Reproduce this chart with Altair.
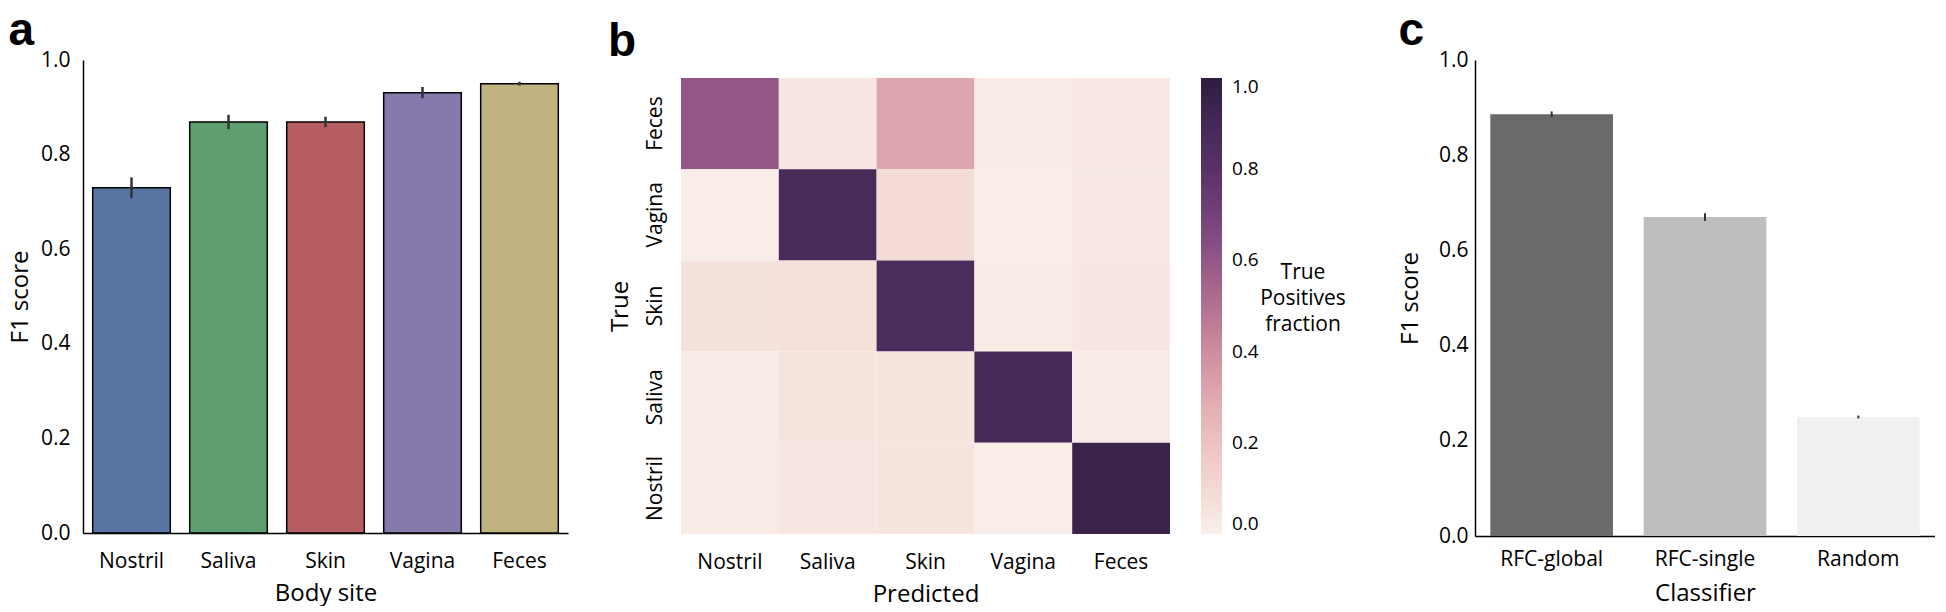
import altair as alt
import pandas as pd

# ---- panel a: F1 score per body site ----
sites = ["Nostril", "Saliva", "Skin", "Vagina", "Feces"]
f1_site = [0.730, 0.869, 0.869, 0.931, 0.950]
f1_site_err = [0.022, 0.015, 0.011, 0.012, 0.004]
site_colors = ["#5975a4", "#5f9e6e", "#b55d60", "#857aab", "#c1b37f"]

# ---- panel b: confusion matrix ----
true_labels = ["Feces", "Vagina", "Skin", "Saliva", "Nostril"]
pred_labels = ["Nostril", "Saliva", "Skin", "Vagina", "Feces"]
tp_fraction = [
    [0.60, 0.04, 0.31, 0.02, 0.03],
    [0.01, 0.88, 0.09, 0.01, 0.03],
    [0.06, 0.07, 0.86, 0.02, 0.04],
    [0.02, 0.05, 0.05, 0.89, 0.02],
    [0.02, 0.04, 0.05, 0.01, 0.94],
]
cmap_stops = ["#f9efeb", "#f3d9d3", "#ecc3c1", "#e0a9b0", "#cd8e9f", "#b27191",
              "#925786", "#724279", "#583267", "#452856", "#2d1d3d"]
cbar_ticks = [0.0, 0.2, 0.4, 0.6, 0.8, 1.0]
cbar_title = "True\nPositives\nfraction"

# ---- panel c: F1 score per classifier ----
classifiers = ["RFC-global", "RFC-single", "Random"]
f1_clf = [0.886, 0.670, 0.250]
f1_clf_err = [0.006, 0.008, 0.003]
clf_colors = ["#6a6a6a", "#bebebe", "#f0f0f0"]

y_ticks = [0.0, 0.2, 0.4, 0.6, 0.8, 1.0]

FONT = "Open Sans"

df_a = pd.DataFrame({"site": sites, "f1": f1_site, "err": f1_site_err})
df_a["lo"] = df_a["f1"] - df_a["err"]
df_a["hi"] = df_a["f1"] + df_a["err"]

rows = []
for i, t in enumerate(true_labels):
    for j, p in enumerate(pred_labels):
        rows.append({"true": t, "pred": p, "frac": tp_fraction[i][j]})
df_b = pd.DataFrame(rows)

df_c = pd.DataFrame({"clf": classifiers, "f1": f1_clf, "err": f1_clf_err})
df_c["lo"] = df_c["f1"] - df_c["err"]
df_c["hi"] = df_c["f1"] + df_c["err"]


def y_axis(pad_title, pad_label):
    return alt.Axis(values=y_ticks, format=".1f", grid=False, ticks=False,
                    domain=True, domainColor="black", domainWidth=1.5,
                    labelPadding=pad_label, title="F1 score", titlePadding=pad_title)


def x_axis(title, lab_pad, title_pad):
    return alt.Axis(labelAngle=0, ticks=False, domain=True, domainColor="black",
                    domainWidth=1.5, labelPadding=lab_pad, title=title,
                    titlePadding=title_pad)


TITLE_OFFSET = -6

# panel a
xa = alt.X("site:N", sort=sites, scale=alt.Scale(paddingInner=0.2, paddingOuter=0.1),
           axis=x_axis("Body site", 17, 10))
bars_a = alt.Chart(df_a).mark_bar(stroke="black", strokeWidth=1.5).encode(
    x=xa,
    y=alt.Y("f1:Q", scale=alt.Scale(domain=[0, 1], nice=False), axis=y_axis(8, 13)),
    color=alt.Color("site:N", scale=alt.Scale(domain=sites, range=site_colors), legend=None),
)
err_a = alt.Chart(df_a).mark_rule(color="#333333", strokeWidth=2.5).encode(
    x=alt.X("site:N", sort=sites), y="lo:Q", y2="hi:Q"
)
panel_a = alt.layer(bars_a, err_a).properties(
    width=485, height=473, title=alt.TitleParams("a", offset=TITLE_OFFSET)
)

# panel b
heat = alt.Chart(df_b).mark_rect().encode(
    x=alt.X("pred:N", sort=pred_labels, scale=alt.Scale(paddingInner=0, paddingOuter=0),
            axis=alt.Axis(labelAngle=0, ticks=False, domain=False, labelPadding=17,
                          title="Predicted", titlePadding=10)),
    y=alt.Y("true:N", sort=true_labels,
            scale=alt.Scale(paddingInner=0, paddingOuter=0, range=[18, 474]),
            axis=alt.Axis(labelAngle=270, ticks=False, domain=False, labelPadding=26,
                          labelBaseline="middle", labelAlign="center",
                          title="True", titlePadding=12)),
    color=alt.Color("frac:Q", scale=alt.Scale(domain=[0, 1], range=cmap_stops),
                    legend=alt.Legend(title=None, orient="none", legendX=520, legendY=18,
                                      values=cbar_ticks, format=".1f",
                                      gradientLength=456, gradientThickness=21,
                                      gradientStrokeWidth=0,
                                      labelOffset=10, labelFontSize=19, labelFont=FONT,
                                      labelColor="black")),
)
cbar_label = alt.Chart(pd.DataFrame({"t": [cbar_title]})).mark_text(
    font=FONT, fontSize=21, color="black", align="center", baseline="middle",
    lineBreak="\n", lineHeight=26
).encode(text="t:N", x=alt.value(622), y=alt.value(213))
panel_b = alt.layer(heat, cbar_label).properties(
    width=489, height=474, title=alt.TitleParams("b", offset=TITLE_OFFSET)
)

# panel c
bars_c = alt.Chart(df_c).mark_bar().encode(
    x=alt.X("clf:N", sort=classifiers, scale=alt.Scale(paddingInner=0.2, paddingOuter=0.1),
            axis=x_axis("Classifier", 12, 12)),
    y=alt.Y("f1:Q", scale=alt.Scale(domain=[0, 1], nice=False), axis=y_axis(16, 7)),
    color=alt.Color("clf:N", scale=alt.Scale(domain=classifiers, range=clf_colors), legend=None),
)
err_c = alt.Chart(df_c).mark_rule(color="#333333", strokeWidth=2).encode(
    x=alt.X("clf:N", sort=classifiers), y="lo:Q", y2="hi:Q"
)
panel_c = alt.layer(bars_c, err_c).properties(
    width=460, height=476, title=alt.TitleParams("c", offset=TITLE_OFFSET)
)

chart = alt.hconcat(
    alt.hconcat(panel_a, panel_b, spacing=40), panel_c, spacing=52
).properties(padding=0).configure_view(stroke=None).configure_axis(
    labelFont=FONT, labelFontSize=21, labelColor="black",
    titleFont=FONT, titleFontSize=24, titleFontWeight="normal", titleColor="black",
).configure_title(
    font="Liberation Sans", fontSize=46, fontWeight="bold", anchor="start", color="black"
)

chart.save("out.html", embed_options={"renderer": "svg", "actions": False})
